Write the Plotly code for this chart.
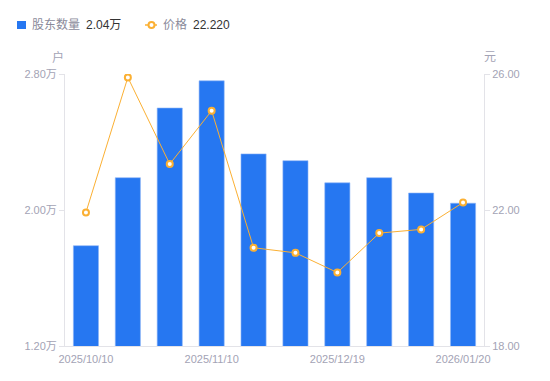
import plotly.graph_objects as go

dates = ["2025/10/10", "2025/10/20", "2025/10/31", "2025/11/10", "2025/11/20",
         "2025/11/30", "2025/12/19", "2025/12/31", "2026/01/09", "2026/01/20"]
holders = [1.79, 2.19, 2.60, 2.76, 2.33, 2.29, 2.16, 2.19, 2.10, 2.04]  # 万户
price = [21.93, 25.90, 23.35, 24.92, 20.89, 20.74, 20.16, 21.32, 21.43, 22.22]  # 元
shown_ticks = ["2025/10/10", "2025/11/10", "2025/12/19", "2026/01/20"]
left_ticks = [1.2, 2.0, 2.8]
right_ticks = [18, 22, 26]

OFF = 8  # page body margin
W, H = 550 - OFF, 381 - OFF
PL, PR, PT, PB = 65, 484, 74, 346  # plot area in window pixels
PW, PH = PR - PL, PB - PT
ML, MT = PL - OFF, PT - OFF
MR, MB = W - ML - PW, H - MT - PH

FONT = "Liberation Sans, Arial, Noto Sans CJK SC, sans-serif"
GRAY = "#a3a3b5"
AXIS = "#e3e3e8"
BLUE = "#2677F1"
ORANGE = "#FBB033"


def px(x):
    return (x - PL) / PW


def py(y):
    return (PB - y) / PH


fig = go.Figure()
fig.add_trace(go.Bar(
    x=dates, y=holders, name="股东数量",
    marker=dict(color=BLUE, line=dict(color="#8fb6f7", width=0.6)),
    yaxis="y", showlegend=False,
))
fig.add_trace(go.Scatter(
    x=dates, y=price, name="价格",
    mode="lines+markers",
    line=dict(color=ORANGE, width=1),
    marker=dict(symbol="circle", size=6, color="#ffffff",
                line=dict(color=ORANGE, width=2)),
    yaxis="y2", showlegend=False,
))

legend_y = 25
shapes = [
    dict(type="rect", xref="paper", yref="paper",
         x0=px(17), x1=px(26), y0=py(21), y1=py(29),
         fillcolor=BLUE, line=dict(width=0), layer="above"),
    dict(type="line", xref="paper", yref="paper",
         x0=px(145), x1=px(157), y0=py(legend_y), y1=py(legend_y),
         line=dict(color=ORANGE, width=1.5), layer="above"),
    dict(type="circle", xref="paper", yref="paper",
         x0=px(148.5), x1=px(154.5), y0=py(legend_y - 3), y1=py(legend_y + 3),
         fillcolor="white", line=dict(color=ORANGE, width=2), layer="above"),
]


def txt(s, x, color, size=12, anchor="left"):
    return dict(text=s, xref="paper", yref="paper", x=px(x), y=py(legend_y),
                xanchor=anchor, yanchor="middle", showarrow=False,
                font=dict(size=size, color=color, family=FONT))


annotations = [
    txt("股东数量", 30, "#8a8a9a"),
    txt(f"{holders[-1]:.2f}万", 84, "#333333"),
    txt("价格", 161, "#8a8a9a"),
    txt(f"{price[-1]:.3f}", 191, "#333333"),
    dict(text="户", xref="paper", yref="paper", x=px(58), y=py(57),
         xanchor="center", yanchor="middle", showarrow=False,
         font=dict(size=12, color=GRAY, family=FONT)),
    dict(text="元", xref="paper", yref="paper", x=px(490), y=py(57),
         xanchor="center", yanchor="middle", showarrow=False,
         font=dict(size=12, color=GRAY, family=FONT)),
]

fig.update_layout(
    width=W, height=H,
    margin=dict(l=ML, r=MR, t=MT, b=MB, autoexpand=False),
    paper_bgcolor="white", plot_bgcolor="white",
    font=dict(family=FONT, size=11, color=GRAY),
    bargap=0.4,
    showlegend=False,
    shapes=shapes,
    annotations=annotations,
    xaxis=dict(type="category", categoryorder="array", categoryarray=dates,
               range=[-0.5, len(dates) - 0.5],
               tickmode="array", tickvals=shown_ticks, ticktext=shown_ticks,
               showline=True, linecolor=AXIS, linewidth=1, automargin=False,
               showgrid=False, ticks="", ticklabelstandoff=3,
               tickfont=dict(size=11, color=GRAY), zeroline=False),
    yaxis=dict(range=[1.2, 2.8], tickmode="array", tickvals=left_ticks,
               ticktext=[f"{v:.2f}万" for v in left_ticks], automargin=False,
               showline=True, linecolor=AXIS, linewidth=1,
               ticks="outside", ticklen=5, tickcolor=AXIS,
               showgrid=False, zeroline=False, tickfont=dict(size=11, color=GRAY)),
    yaxis2=dict(range=[18, 26], tickmode="array", tickvals=right_ticks,
                ticktext=[f"{v:.2f}" for v in right_ticks], automargin=False,
                overlaying="y", side="right",
                showline=True, linecolor=AXIS, linewidth=1,
                ticks="outside", ticklen=5, tickcolor=AXIS,
                showgrid=False, zeroline=False, tickfont=dict(size=11, color=GRAY)),
)

fig.write_html("out.html")
